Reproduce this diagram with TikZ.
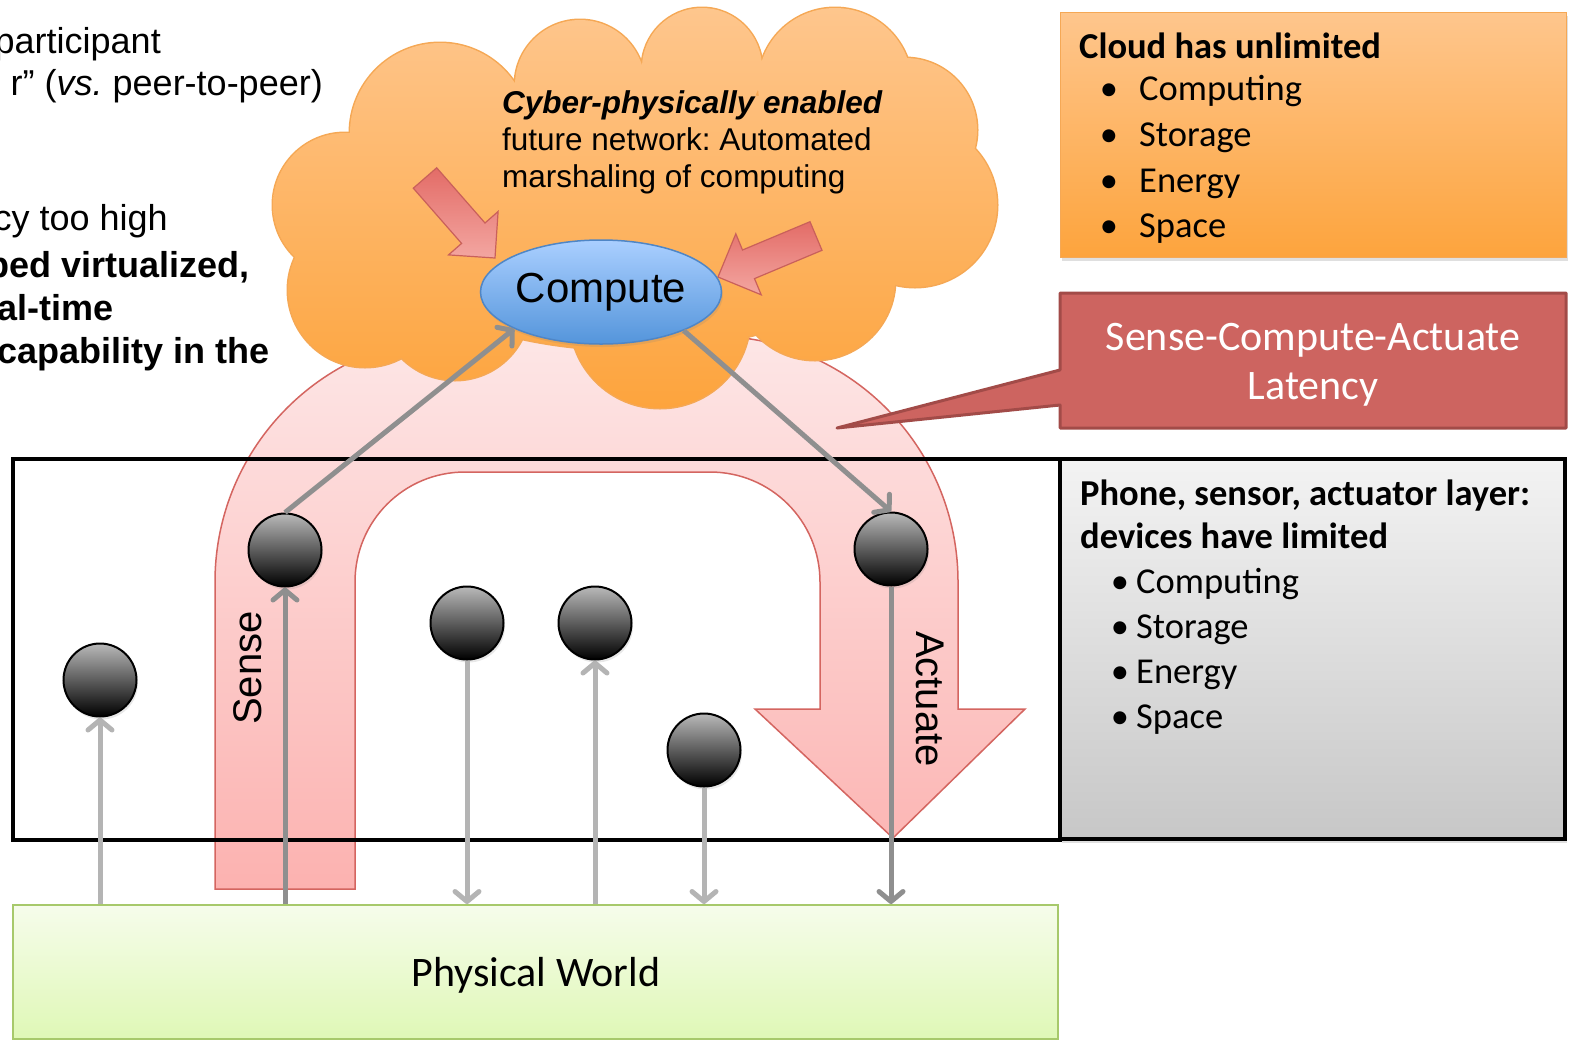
\documentclass[tikz,border=0pt]{standalone}
\usepackage{fontspec}
\setmainfont{Carlito}
\newfontfamily\arialf{Liberation Sans}
\usetikzlibrary{arrows.meta,shapes.geometric,shadows}
\frenchspacing
\definecolor{orTop}{HTML}{FEC68D}
\definecolor{orBot}{HTML}{FDA43D}
\definecolor{orLine}{HTML}{F5A855}
\definecolor{redBox}{HTML}{CD6460}
\definecolor{redLine}{HTML}{A24B48}
\definecolor{uTop}{HTML}{FDE6E6}
\definecolor{uBot}{HTML}{FCB2B0}
\definecolor{uLine}{HTML}{D46560}
\definecolor{compTop}{HTML}{AACFFF}
\definecolor{compBot}{HTML}{5495DB}
\definecolor{compLine}{HTML}{4F86C6}
\definecolor{greyTop}{HTML}{F3F3F3}
\definecolor{greyBot}{HTML}{C7C7C7}
\definecolor{wTop}{HTML}{F6FCEB}
\definecolor{wBot}{HTML}{DFF8B6}
\definecolor{wLine}{HTML}{A7C96B}
\definecolor{ballTop}{HTML}{B9B9B9}
\definecolor{lnDark}{HTML}{8F8F8F}
\definecolor{lnLight}{HTML}{B4B4B4}
\definecolor{arTop}{HTML}{E36C67}
\definecolor{arBot}{HTML}{F3A6A1}
\definecolor{arLine}{HTML}{C9605B}
\begin{document}
\begin{tikzpicture}[x=1pt,y=-1pt,
  lt/.style={inner sep=0pt, font=\arialf\fontsize{36}{43}\selectfont},
  ltb/.style={inner sep=0pt, font=\arialf\bfseries\fontsize{36}{43}\selectfont},
  ct/.style={inner sep=0pt, anchor=base west, font=\arialf\fontsize{31.5}{37}\selectfont},
  boxt/.style={inner sep=0pt, font=\fontsize{36.5}{44}\selectfont},
  boxtb/.style={inner sep=0pt, anchor=base west, font=\bfseries\fontsize{36.5}{44}\selectfont},
  ball/.style={circle, draw=black, line width=2pt, minimum size=73pt, inner sep=0pt,
    top color=ballTop, bottom color=black,
    drop shadow={shadow xshift=1.5pt,shadow yshift=-3pt,opacity=0.18}},
  arr/.style={line width=5pt, -{Straight Barb[length=10pt,width=24pt,round]}},
  lndark/.style={arr, draw=lnDark},
  lnlight/.style={arr, draw=lnLight},
  smallarrow/.style={draw=arLine, line width=1.2pt, top color=arTop, bottom color=arBot},
  shade/.style={drop shadow={shadow xshift=2pt,shadow yshift=-4pt,opacity=0.25}}]
\useasboundingbox (0,0) rectangle (1573,1042);

% layer background
\node[fill=white, minimum width=1047pt, minimum height=381pt, inner sep=0pt, outer sep=0pt] (layer) at (536.5,649.5) {};

% physical world
\node[draw=wLine, line width=2pt, top color=wTop, bottom color=wBot,
  minimum width=1045pt, minimum height=134pt, inner sep=0pt] (world) at (535.5,972) {};
\node[inner sep=0pt, anchor=base, font=\fontsize{42}{50}\selectfont] (worldlbl) at (536,986) {Physical World};

% U-turn arrow
\path[draw=uLine, line width=1.5pt, top color=uTop, bottom color=uBot]
  (215,889) -- (215,582) .. controls (215,446) and (325,336) .. (461,336)
  -- (712,336) .. controls (848,336) and (958,446) .. (958,582)
  -- (958,709) -- (1025,709) -- (893,838) -- (755,709) -- (820,709)
  -- (820,582) .. controls (820,521) and (771,472) .. (710,472)
  -- (465,472) .. controls (404,472) and (355,521) .. (355,582)
  -- (355,889) -- cycle;

% layer border
\draw[black, line width=4pt] (layer.north west) rectangle (layer.south east);

% grey device box
\node[draw=black, line width=4pt, top color=greyTop, bottom color=greyBot,
  minimum width=505pt, minimum height=380pt, inner sep=0pt, shade] (devbox) at (1312.5,649) {};
\node[boxtb] (dt1) at (1080,505) {Phone, sensor, actuator layer:};
\node[boxtb] (dt2) at (1080,548) {devices have limited};
\foreach \t/\yy in {Computing/593, Storage/638, Energy/683, Space/728} {
  \node[boxt, anchor=base] (dbul\yy) at (1120,\yy) {\textbullet};
  \node[boxt, anchor=base west] (ditem\yy) at (1136,\yy) {\t};
}

% orange cloud box
\node[draw=orLine, line width=1pt, top color=orTop, bottom color=orBot,
  minimum width=506pt, minimum height=245pt, inner sep=0pt, shade] (cloudbox) at (1313,134.5) {};
\node[boxtb] (ot1) at (1079,58) {Cloud has unlimited};
\foreach \t/\yy in {Computing/100, Storage/146, Energy/192, Space/237} {
  \node[boxt, anchor=base] (obul\yy) at (1109,\yy) {\textbullet};
  \node[boxt, anchor=base west] (oitem\yy) at (1139,\yy) {\t};
}

% red callout
\draw[fill=redBox, draw=redLine, line width=3pt, line join=round]
  (1060,293) -- (1566,293) -- (1566,428) -- (1060,428) -- (1060,405)
  -- (837,428) -- (1060,370) -- cycle;
\node[boxt, anchor=base, text=white, font=\fontsize{42}{50}\selectfont] (rt1) at (1313,350) {Sense-Compute-Actuate};
\node[boxt, anchor=base, text=white, font=\fontsize{42}{50}\selectfont] (rt2) at (1313,399) {Latency};

% cloud
\foreach \x/\y/\r in {345/205/72, 365/290/77, 455/305/75, 660/318/90, 815/280/80,
   915/205/82, 905/130/72, 835/85/77, 702/68/60, 580/85/65, 440/133/90} {
  \draw[orLine, line width=3pt] (\x,\y) circle[radius=\r pt];
}
\draw[orLine, line width=3pt] (630,215) ellipse[x radius=270pt, y radius=135pt];
\path[top color=orTop, bottom color=orBot]
  (345,205) circle[radius=72pt] (365,290) circle[radius=77pt]
  (455,305) circle[radius=75pt] (660,318) circle[radius=90pt]
  (815,280) circle[radius=80pt] (915,205) circle[radius=82pt]
  (905,130) circle[radius=72pt] (835,85) circle[radius=77pt]
  (702,68) circle[radius=60pt] (580,85) circle[radius=65pt]
  (440,133) circle[radius=90pt]
  (630,215) ellipse[x radius=270pt, y radius=135pt];

% small red arrows
\path[smallarrow] (413.3,188.2) -- (461.6,243.4) -- (448.5,254.9) -- (495,258)
  -- (498.1,211.5) -- (485.0,223.0) -- (436.7,167.8) -- cycle;
\path[smallarrow] (810.0,221.7) -- (742.5,250.0) -- (735.8,233.8) -- (718,277)
  -- (761.2,294.8) -- (754.5,278.6) -- (822.0,250.3) -- cycle;

% cloud text
\node[ct, font=\arialf\bfseries\itshape\fontsize{31.5}{37}\selectfont] (cl1) at (502,113) {Cyber-physically enabled};
\node[ct] (cl2) at (502,150) {future network: Automated};
\node[ct] (cl3) at (502,187) {marshaling of computing};

% compute
\node[ellipse, draw=compLine, line width=1.5pt, top color=compTop, bottom color=compBot,
  minimum width=236pt, minimum height=104pt, inner sep=0pt,
  drop shadow={shadow xshift=1.5pt,shadow yshift=-3pt,opacity=0.18},
  font=\arialf\fontsize{42}{50}\selectfont] (compute) at (601,292) {Compute};

% left text (cut off by the page edge, as in the original)
\node[lt, anchor=base east] (l1) at (161,53) {participant};
\node[lt, anchor=base east] (l2) at (323,95) {r” (\textit{vs.} peer-to-peer)};
\node[lt, anchor=base east] (l3) at (168,230) {cy too high};
\node[ltb, anchor=base east] (l4) at (250,277) {ped virtualized,};
\node[ltb, anchor=base east] (l5) at (114,320) {al-time};
\node[ltb, anchor=base east] (l6) at (270,363) {capability in the};

% labels on the U arrow
\node[inner sep=0pt, rotate=90, font=\arialf\fontsize{40}{48}\selectfont] (senselbl) at (248,668) {Sense};
\node[inner sep=0pt, rotate=-90, font=\arialf\fontsize{40}{48}\selectfont] (actlbl) at (930,699) {Actuate};

% devices
\node[ball] (c1) at (100,680) {};
\node[ball] (c2) at (285,550) {};
\node[ball] (c3) at (467,623) {};
\node[ball] (c4) at (595,623) {};
\node[ball] (c5) at (704,750) {};
\node[ball] (c6) at (891,549) {};

% connectors
\draw[lnlight] (c1 |- world.north) -- (c1.south);
\draw[lndark] (c2 |- world.north) -- (c2.south);
\draw[lnlight] (c3.south) -- (c3 |- world.north);
\draw[lnlight] (c4 |- world.north) -- (c4.south);
\draw[lnlight] (c5.south) -- (c5 |- world.north);
\draw[lndark] (c6.south) -- (c6 |- world.north);
\draw[lndark] (c2.north) -- (compute.203);
\draw[lndark] (compute.-25) -- (c6.north);
\end{tikzpicture}
\end{document}
